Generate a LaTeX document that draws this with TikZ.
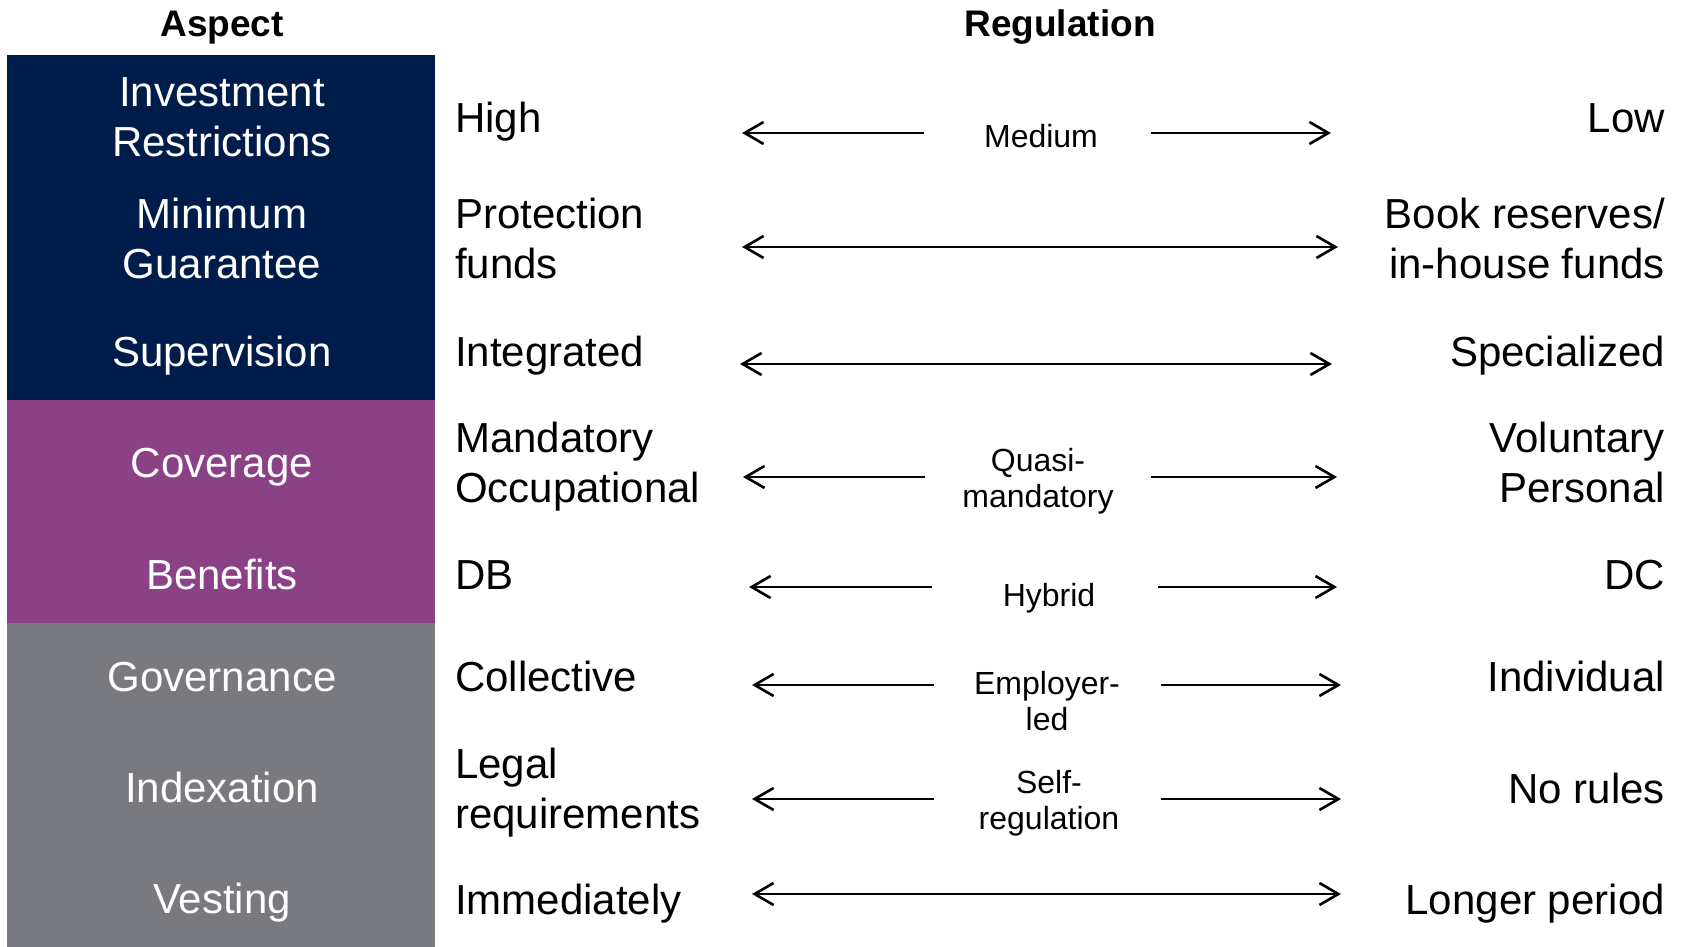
\documentclass[tikz,border=0pt]{standalone}
\usepackage{fontspec}
\setmainfont{Liberation Sans}
\usetikzlibrary{arrows.meta}
\definecolor{navyA}{RGB}{0,28,74}
\definecolor{purpA}{RGB}{139,65,134}
\definecolor{greyA}{RGB}{120,122,127}
\begin{document}
\begin{tikzpicture}[x=1pt,y=-1pt,
 big/.style={font=\fontsize{42}{50.5}\selectfont, inner sep=0pt, anchor=base},
 aspect/.style={big, text=white, align=center},
 lefttxt/.style={big, anchor=base west, align=left},
 righttxt/.style={big, anchor=base east, align=right},
 midtxt/.style={font=\fontsize{32}{36.5}\selectfont, inner sep=0pt, anchor=base, align=center},
 head/.style={font=\fontsize{37}{44}\selectfont\bfseries, inner sep=0pt, anchor=base},
 arr/.style={line width=2.6pt, -{Straight Barb[length=19pt,width=22pt]}},
 darr/.style={line width=2.6pt, {Straight Barb[length=19pt,width=22pt]}-{Straight Barb[length=19pt,width=22pt]}},
]
\useasboundingbox (0,0) rectangle (1687,947);
\fill[white] (0,0) rectangle (1687,947);
% aspect panel
\fill[navyA] (7,55) rectangle (435,400.5);
\fill[purpA] (7,400) rectangle (435,623);
\fill[greyA] (7,622.5) rectangle (435,947);

% headers
\node[head] (hA) at (222,37) {Aspect};
\node[head] (hR) at (1060,37) {Regulation};

% aspect labels (base = baseline of last line)
\node[aspect] (a1) at (222,157) {Investment\\Restrictions};
\node[aspect] (a2) at (222,278.5) {Minimum\\Guarantee};
\node[aspect] (a3) at (222,366) {Supervision};
\node[aspect] (a4) at (222,477.5) {Coverage};
\node[aspect] (a5) at (222,589) {Benefits};
\node[aspect] (a6) at (222,691) {Governance};
\node[aspect] (a7) at (222,802.5) {Indexation};
\node[aspect] (a8) at (222,913.5) {Vesting};

% left labels
\node[lefttxt] (l1) at (455,133) {High};
\node[lefttxt] (l2) at (455,278.5) {Protection\\funds};
\node[lefttxt] (l3) at (455,366) {Integrated};
\node[lefttxt] (l4) at (455,502.5) {Mandatory\\Occupational};
\node[lefttxt] (l5) at (455,589) {DB};
\node[lefttxt] (l6) at (455,691) {Collective};
\node[lefttxt] (l7) at (455,828.5) {Legal\\requirements};
\node[lefttxt] (l8) at (455,914) {Immediately};

% right labels
\node[righttxt] (r1) at (1665,133) {Low};
\node[righttxt] (r2) at (1665,278.5) {Book reserves/\\in-house funds};
\node[righttxt] (r3) at (1665,366) {Specialized};
\node[righttxt] (r4) at (1665,502.5) {Voluntary\\Personal};
\node[righttxt] (r5) at (1665,589) {DC};
\node[righttxt] (r6) at (1665,691) {Individual};
\node[righttxt] (r7) at (1665,803) {No rules};
\node[righttxt] (r8) at (1665,914) {Longer period};

% middle labels
\node[midtxt] (m1) at (1041,148) {Medium};
\node[midtxt] (m4) at (1038,507.5) {Quasi-\\mandatory};
\node[midtxt] (m5) at (1049,606) {Hybrid};
\node[midtxt] (m6) at (1047,730.5) {Employer-\\led};
\node[midtxt] (m7) at (1049,829.5) {Self-\\regulation};

% arrow end points
\coordinate (p1a) at (742,133);  \coordinate (p1b) at (924,133);
\coordinate (p1c) at (1151,133); \coordinate (p1d) at (1331,133);
\coordinate (p2a) at (742,247);  \coordinate (p2d) at (1338,247);
\coordinate (p3a) at (740,364);  \coordinate (p3d) at (1332,364);
\coordinate (p4a) at (743,477);  \coordinate (p4b) at (925,477);
\coordinate (p4c) at (1151,477); \coordinate (p4d) at (1337,477);
\coordinate (p5a) at (749,587);  \coordinate (p5b) at (932,587);
\coordinate (p5c) at (1158,587); \coordinate (p5d) at (1337,587);
\coordinate (p6a) at (752,685);  \coordinate (p6b) at (934,685);
\coordinate (p6c) at (1161,685); \coordinate (p6d) at (1341,685);
\coordinate (p7a) at (752,799);  \coordinate (p7b) at (934,799);
\coordinate (p7c) at (1161,799); \coordinate (p7d) at (1341,799);
\coordinate (p8a) at (752,894);  \coordinate (p8d) at (1341,894);

% arrows
\draw[arr] (p1b) -- (p1a);
\draw[arr] (p1c) -- (p1d);
\draw[darr] (p2a) -- (p2d);
\draw[darr] (p3a) -- (p3d);
\draw[arr] (p4b) -- (p4a);
\draw[arr] (p4c) -- (p4d);
\draw[arr] (p5b) -- (p5a);
\draw[arr] (p5c) -- (p5d);
\draw[arr] (p6b) -- (p6a);
\draw[arr] (p6c) -- (p6d);
\draw[arr] (p7b) -- (p7a);
\draw[arr] (p7c) -- (p7d);
\draw[darr] (p8a) -- (p8d);
\end{tikzpicture}
\end{document}
